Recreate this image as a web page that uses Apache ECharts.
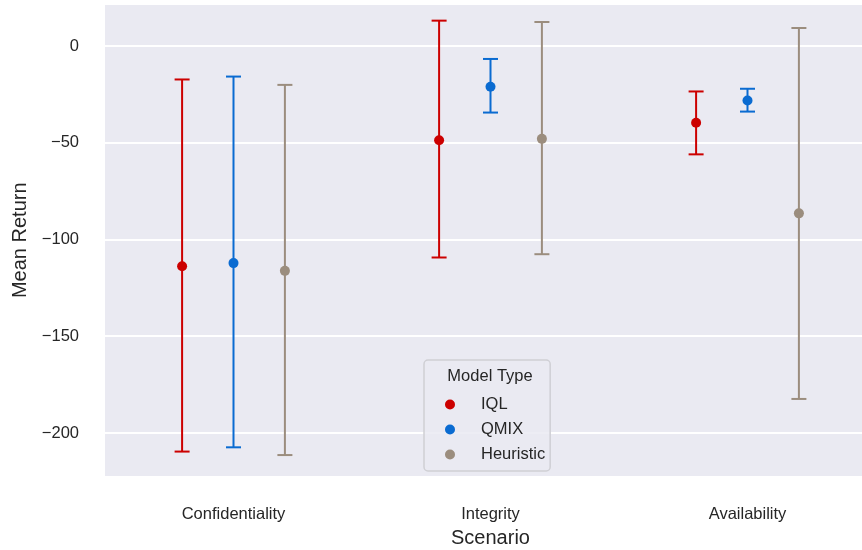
<!DOCTYPE html>
<html>
<head>
<meta charset="utf-8">
<script src="https://cdn.jsdelivr.net/npm/echarts@6/dist/echarts.min.js"></script>
<style>
html,body{margin:0;padding:0;background:#fff;overflow:hidden;}
#chart{width:862px;height:550px;}
</style>
</head>
<body>
<div id="chart"></div>
<script>
const categories = ['Confidentiality', 'Integrity', 'Availability'];
const modelNames = ['IQL', 'QMIX', 'Heuristic'];
const yTickValues = [0, -50, -100, -150, -200];

const iqlMean = [-113.8, -48.7, -39.7];
const iqlLow = [-209.6, -109.3, -56.0];
const iqlHigh = [-17.3, 13.1, -23.5];

const qmixMean = [-112.2, -21.1, -28.2];
const qmixLow = [-207.4, -34.4, -33.9];
const qmixHigh = [-15.8, -6.7, -22.1];

const heurMean = [-116.2, -48.0, -86.5];
const heurLow = [-211.4, -107.6, -182.4];
const heurHigh = [-20.1, 12.4, 9.3];

const colors = ['#cc0000', '#0a6bd1', '#9b8d7e'];
const FONT = "'Liberation Sans', Arial, sans-serif";
const TEXT = '#262626';

const groups = [
  {mean: iqlMean, low: iqlLow, high: iqlHigh},
  {mean: qmixMean, low: qmixLow, high: qmixHigh},
  {mean: heurMean, low: heurLow, high: heurHigh}
];
const dodge = [-0.2, 0, 0.2];

function errRender(params, api) {
  const x = api.value(0);
  const p1 = api.coord([x, api.value(1)]);
  const p2 = api.coord([x, api.value(2)]);
  const cap = 7.5;
  const st = {stroke: api.visual('color'), lineWidth: 2};
  return {
    type: 'group',
    children: [
      {type: 'line', shape: {x1: p1[0], y1: p1[1], x2: p2[0], y2: p2[1]}, style: st},
      {type: 'line', shape: {x1: p1[0] - cap, y1: p1[1], x2: p1[0] + cap, y2: p1[1]}, style: st},
      {type: 'line', shape: {x1: p2[0] - cap, y1: p2[1], x2: p2[0] + cap, y2: p2[1]}, style: st}
    ]
  };
}

const series = [];
groups.forEach((g, k) => {
  series.push({
    name: modelNames[k],
    type: 'custom',
    xAxisIndex: 1,
    renderItem: errRender,
    itemStyle: {color: colors[k]},
    encode: {x: 0, y: [1, 2]},
    data: categories.map((c, i) => [i + dodge[k], g.low[i], g.high[i]]),
    z: 2
  });
  series.push({
    name: modelNames[k],
    type: 'scatter',
    xAxisIndex: 1,
    symbol: 'circle',
    symbolSize: 10,
    itemStyle: {color: colors[k], opacity: 1},
    data: categories.map((c, i) => [i + dodge[k], g.mean[i]]),
    z: 3
  });
});

const chart = echarts.init(document.getElementById('chart'), null, {renderer: 'canvas'});
chart.setOption({
  animation: false,
  backgroundColor: '#ffffff',
  textStyle: {fontFamily: FONT},
  grid: {
    left: 105, width: 771, top: 3.5, bottom: 73,
    containLabel: false,
    outerBoundsMode: 'none',
    show: true, backgroundColor: '#eaeaf2', borderWidth: 0
  },
  xAxis: [
    {
      type: 'category',
      data: categories,
      boundaryGap: true,
      axisLine: {show: false},
      axisTick: {show: false},
      splitLine: {show: false},
      axisLabel: {color: TEXT, fontSize: 16.5, fontFamily: FONT, margin: 29},
      name: 'Scenario',
      nameLocation: 'middle',
      nameGap: 51,
      nameTextStyle: {color: TEXT, fontSize: 20, fontFamily: FONT}
    },
    {
      type: 'value',
      min: -0.5,
      max: 2.5,
      show: false,
      splitLine: {show: false}
    }
  ],
  yAxis: {
    type: 'value',
    min: -222.74,
    max: 21.96,
    splitNumber: 5,
    axisLine: {show: false},
    axisTick: {show: false},
    splitLine: {show: true, lineStyle: {color: '#ffffff', width: 2}},
    axisLabel: {
      color: TEXT, fontSize: 16.5, fontFamily: FONT, margin: 26,
      showMinLabel: false, showMaxLabel: false,
      formatter: function (v) {
        const r = Math.round(v);
        if (yTickValues.indexOf(r) < 0 || Math.abs(v - r) > 1e-6) return '';
        return r < 0 ? '\u2212' + (-r) : String(r);
      }
    },
    name: 'Mean Return',
    nameLocation: 'middle',
    nameGap: 72,
    nameTextStyle: {color: TEXT, fontSize: 20, fontFamily: FONT}
  },
  legend: {
    data: modelNames.map((n) => ({name: n, icon: 'circle'})),
    orient: 'vertical',
    left: 424,
    top: 360,
    padding: [36, 5, 8, 21],
    itemWidth: 10,
    itemHeight: 10,
    itemGap: 8,
    backgroundColor: 'rgba(234,234,242,0.85)',
    borderColor: '#cfcfd4',
    borderWidth: 1.5,
    borderRadius: 4,
    textStyle: {color: TEXT, fontSize: 16.5, fontFamily: FONT, lineHeight: 16, padding: [0, 0, 0, 21]}
  },
  graphic: [{
    type: 'text',
    z: 200,
    zlevel: 0,
    style: {
      x: 490, y: 376,
      text: 'Model Type',
      align: 'center',
      verticalAlign: 'middle',
      fill: TEXT,
      font: '16.5px ' + FONT
    }
  }],
  series: series
});
</script>
</body>
</html>
